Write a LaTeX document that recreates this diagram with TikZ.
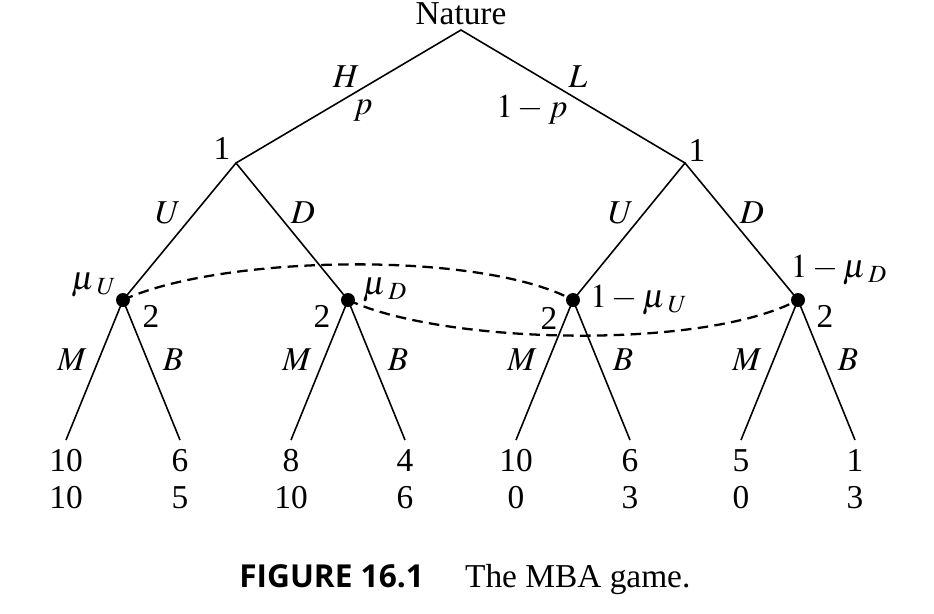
\documentclass[tikz,border=0pt]{standalone}
\usepackage{amsmath}
\usepackage{mathptmx}
\usepackage{fontspec}
\setmainfont{Liberation Serif}
\newfontfamily\capfont{Open Sans}
\usepackage{tikz}
\usetikzlibrary{calc,positioning}
\tikzset{
  branch/.style={black, line width=0.9pt},
  infoset/.style={black, line width=1.3pt, dash pattern=on 6pt off 3.6pt},
  lbl/.style={inner sep=1pt},
  payoff/.style={inner sep=1pt, anchor=base},
}

\begin{document}
\begin{tikzpicture}[x=0.02cm,y=-0.02cm, font=\fontsize{19}{22}\selectfont]
\useasboundingbox (0,0) rectangle (934,613);
% decision points
\coordinate (nat) at (461,30);
\coordinate (h) at (236,163);
\coordinate (l) at (685,163);
\coordinate (hu) at (123,300);
\coordinate (hd) at (348,300);
\coordinate (lu) at (573,300);
\coordinate (ld) at (798,300);
\node[lbl] (nature) at (461,14) {Nature};

\draw[branch] (h) -- (nat) -- (l);
\draw[branch] (hu) -- (h) -- (hd);
\draw[branch] (lu) -- (l) -- (ld);

% second mover: M or B, then payoffs
\foreach \n/\x/\a/\b/\c/\d in {hu/123/10/10/6/5, hd/348/8/10/4/6, lu/573/10/0/6/3, ld/798/5/0/1/3}{
  \coordinate (\n m) at (\x-57,440);
  \coordinate (\n b) at (\x+57,440);
  \draw[branch] (\n m) -- (\n) -- (\n b);
  \node[payoff] (\n ma) at (\x-57,471) {\a};
  \node[payoff] (\n mb) at (\x-57,508) {\b};
  \node[payoff] (\n ba) at (\x+57,471) {\c};
  \node[payoff] (\n bb) at (\x+57,508) {\d};
  \node[lbl] (\n M) at (\x-51,360) {$M$};
  \node[lbl] (\n B) at (\x+50,360) {$B$};
}

\draw[infoset] (hu) .. controls (220,255) and (480,250) .. (lu);
\draw[infoset] (hd) .. controls (445,345) and (705,350) .. (ld);

\foreach \n in {hu,hd,lu,ld}
  \fill (\n) circle (0.14cm);

% branch labels
\node[lbl] (hlab) at (346,77) {$H$};
\node[lbl] (plab) at (363,111) {$p$};
\node[lbl] (llab) at (578,77) {$L$};
\node[lbl] (qlab) at (532,110) {$1-p$};
\node[lbl] (oneh) at (222,148) {1};
\node[lbl] (onel) at (697,150) {1};
\node[lbl] (ulab1) at (168,213) {$U$};
\node[lbl] (dlab1) at (303,213) {$D$};
\node[lbl] (ulab2) at (621,213) {$U$};
\node[lbl] (dlab2) at (752,213) {$D$};

% beliefs and player 2
\node[lbl] (muu) at (94,285) {$\mu_{\,\,U}$};
\node[lbl] (twohu) at (151,316) {2};
\node[lbl] (mud) at (385,290) {$\mu_{\,\,D}$};
\node[lbl] (twohd) at (322,316) {2};
\node[lbl] (twolu) at (549,318) {2};
\node[lbl] (mulu) at (639,300) {$1-\mu_{\,\,U}$};
\node[lbl] (muld) at (839,270) {$1-\mu_{\,\,D}$};
\node[lbl] (twold) at (825,316) {2};

% caption
\node[lbl, anchor=base east] (fig) at (426,587) {\fontsize{18}{22}\selectfont\capfont\bfseries FIGURE 16.1};
\node[lbl, anchor=base west] (title) at (463,587) {The MBA game.};
\end{tikzpicture}
\end{document}
